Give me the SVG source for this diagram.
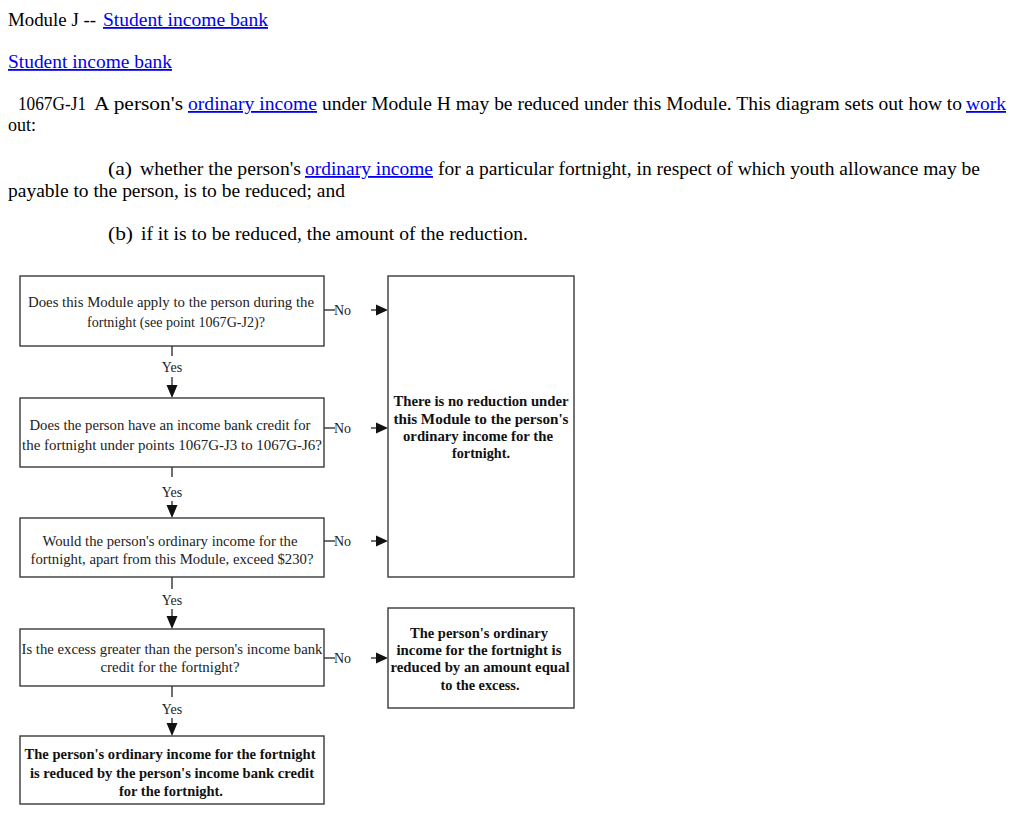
<svg xmlns="http://www.w3.org/2000/svg" width="1024" height="823" viewBox="0 0 1024 823">
<style>
.hd{font-family:"Liberation Serif","Times New Roman",serif;font-size:18px;fill:#000}
.lnk{fill:#0000ee;text-decoration:underline}
.bx{fill:#fff;stroke:#3a3a3a;stroke-width:1.4}
.bt{font-family:"Liberation Serif","Times New Roman",serif;font-size:14px;fill:#222;text-anchor:middle}
.bb{font-weight:bold;fill:#111}
.lb{font-family:"Liberation Serif","Times New Roman",serif;font-size:14px;fill:#222}
.cn{stroke:#222;stroke-width:1.3;fill:none}
.ah{fill:#111}
</style>
<rect width="1024" height="823" fill="#fff"/>
<g id="header">
<text class="hd" x="8" y="26" textLength="88" lengthAdjust="spacingAndGlyphs">Module J --</text>
<text class="hd lnk" x="103" y="26" textLength="165" lengthAdjust="spacingAndGlyphs">Student income bank</text>
<text class="hd lnk" x="8" y="68" textLength="164" lengthAdjust="spacingAndGlyphs">Student income bank</text>
<text class="hd" x="18" y="110" textLength="68" lengthAdjust="spacingAndGlyphs">1067G-J1</text>
<text class="hd" x="94" y="110" textLength="89" lengthAdjust="spacingAndGlyphs">A person's</text>
<text class="hd lnk" x="188" y="110" textLength="129" lengthAdjust="spacingAndGlyphs">ordinary income</text>
<text class="hd" x="322" y="110" textLength="640" lengthAdjust="spacingAndGlyphs">under Module H may be reduced under this Module. This diagram sets out how to</text>
<text class="hd lnk" x="966" y="110" textLength="40" lengthAdjust="spacingAndGlyphs">work</text>
<text class="hd" x="8" y="131">out:</text>
<text class="hd" x="108" y="175" textLength="24" lengthAdjust="spacingAndGlyphs">(a)</text>
<text class="hd" x="140" y="175" textLength="161" lengthAdjust="spacingAndGlyphs">whether the person's</text>
<text class="hd lnk" x="305" y="175" textLength="128" lengthAdjust="spacingAndGlyphs">ordinary income</text>
<text class="hd" x="438" y="175" textLength="542" lengthAdjust="spacingAndGlyphs">for a particular fortnight, in respect of which youth allowance may be</text>
<text class="hd" x="8" y="197" textLength="337" lengthAdjust="spacingAndGlyphs">payable to the person, is to be reduced; and</text>
<text class="hd" x="108" y="240" textLength="25" lengthAdjust="spacingAndGlyphs">(b)</text>
<text class="hd" x="141" y="240" textLength="387" lengthAdjust="spacingAndGlyphs">if it is to be reduced, the amount of the reduction.</text>
</g>
<g id="connectors">
<line class="cn" x1="172" y1="346" x2="172" y2="356"/>
<line class="cn" x1="172" y1="377" x2="172" y2="387"/>
<polygon class="ah" points="166.5,385 177.5,385 172,398"/>
<text class="lb" x="172" y="372" text-anchor="middle">Yes</text>
<line class="cn" x1="172" y1="467" x2="172" y2="477"/>
<line class="cn" x1="172" y1="501" x2="172" y2="507"/>
<polygon class="ah" points="166.5,505 177.5,505 172,518"/>
<text class="lb" x="172" y="497" text-anchor="middle">Yes</text>
<line class="cn" x1="172" y1="577" x2="172" y2="589"/>
<line class="cn" x1="172" y1="609" x2="172" y2="618"/>
<polygon class="ah" points="166.5,616 177.5,616 172,629"/>
<text class="lb" x="172" y="605" text-anchor="middle">Yes</text>
<line class="cn" x1="172" y1="686" x2="172" y2="697"/>
<line class="cn" x1="172" y1="718" x2="172" y2="725"/>
<polygon class="ah" points="166.5,723 177.5,723 172,736"/>
<text class="lb" x="172" y="714" text-anchor="middle">Yes</text>
<line class="cn" x1="324" y1="310" x2="335" y2="310"/>
<text class="lb" x="334" y="315">No</text>
<line class="cn" x1="371" y1="310" x2="378" y2="310"/>
<polygon class="ah" points="376,304.5 376,315.5 388,310"/>
<line class="cn" x1="324" y1="428" x2="335" y2="428"/>
<text class="lb" x="334" y="433">No</text>
<line class="cn" x1="371" y1="428" x2="378" y2="428"/>
<polygon class="ah" points="376,422.5 376,433.5 388,428"/>
<line class="cn" x1="324" y1="541" x2="335" y2="541"/>
<text class="lb" x="334" y="546">No</text>
<line class="cn" x1="371" y1="541" x2="378" y2="541"/>
<polygon class="ah" points="376,535.5 376,546.5 388,541"/>
<line class="cn" x1="324" y1="658" x2="335" y2="658"/>
<text class="lb" x="334" y="663">No</text>
<line class="cn" x1="371" y1="658" x2="378" y2="658"/>
<polygon class="ah" points="376,652.5 376,663.5 388,658"/>
</g>
<g id="q1">
<rect class="bx" x="20" y="276" width="304" height="70"/>
<text class="bt" x="171" y="307" textLength="286" lengthAdjust="spacingAndGlyphs">Does this Module apply to the person during the</text>
<text class="bt" x="176" y="327" textLength="178" lengthAdjust="spacingAndGlyphs">fortnight (see point 1067G-J2)?</text>
</g>
<g id="q2">
<rect class="bx" x="20" y="398" width="304" height="69"/>
<text class="bt" x="170" y="430" textLength="281" lengthAdjust="spacingAndGlyphs">Does the person have an income bank credit for</text>
<text class="bt" x="172" y="450" textLength="300" lengthAdjust="spacingAndGlyphs">the fortnight under points 1067G-J3 to 1067G-J6?</text>
</g>
<g id="q3">
<rect class="bx" x="20" y="518" width="304" height="59"/>
<text class="bt" x="170" y="546" textLength="255" lengthAdjust="spacingAndGlyphs">Would the person's ordinary income for the</text>
<text class="bt" x="172" y="564" textLength="283" lengthAdjust="spacingAndGlyphs">fortnight, apart from this Module, exceed $230?</text>
</g>
<g id="q4">
<rect class="bx" x="20" y="629" width="304" height="57"/>
<text class="bt" x="172" y="654" textLength="301" lengthAdjust="spacingAndGlyphs">Is the excess greater than the person's income bank</text>
<text class="bt" x="170" y="672" textLength="139" lengthAdjust="spacingAndGlyphs">credit for the fortnight?</text>
</g>
<g id="r-none">
<rect class="bx" x="388" y="276" width="186" height="301"/>
<text class="bt bb" x="481" y="406" textLength="175" lengthAdjust="spacingAndGlyphs">There is no reduction under</text>
<text class="bt bb" x="481" y="424" textLength="175" lengthAdjust="spacingAndGlyphs">this Module to the person's</text>
<text class="bt bb" x="478" y="441" textLength="150" lengthAdjust="spacingAndGlyphs">ordinary income for the</text>
<text class="bt bb" x="481" y="458" textLength="58" lengthAdjust="spacingAndGlyphs">fortnight.</text>
</g>
<g id="r-excess">
<rect class="bx" x="388" y="608" width="186" height="100"/>
<text class="bt bb" x="479" y="638" textLength="138" lengthAdjust="spacingAndGlyphs">The person's ordinary</text>
<text class="bt bb" x="479" y="655" textLength="165" lengthAdjust="spacingAndGlyphs">income for the fortnight is</text>
<text class="bt bb" x="480" y="672" textLength="179" lengthAdjust="spacingAndGlyphs">reduced by an amount equal</text>
<text class="bt bb" x="480" y="690" textLength="79" lengthAdjust="spacingAndGlyphs">to the excess.</text>
</g>
<g id="r-credit">
<rect class="bx" x="20" y="736" width="304" height="68"/>
<text class="bt bb" x="170" y="759" textLength="291" lengthAdjust="spacingAndGlyphs">The person's ordinary income for the fortnight</text>
<text class="bt bb" x="172" y="778" textLength="284" lengthAdjust="spacingAndGlyphs">is reduced by the person's income bank credit</text>
<text class="bt bb" x="171" y="796" textLength="104" lengthAdjust="spacingAndGlyphs">for the fortnight.</text>
</g>
</svg>
